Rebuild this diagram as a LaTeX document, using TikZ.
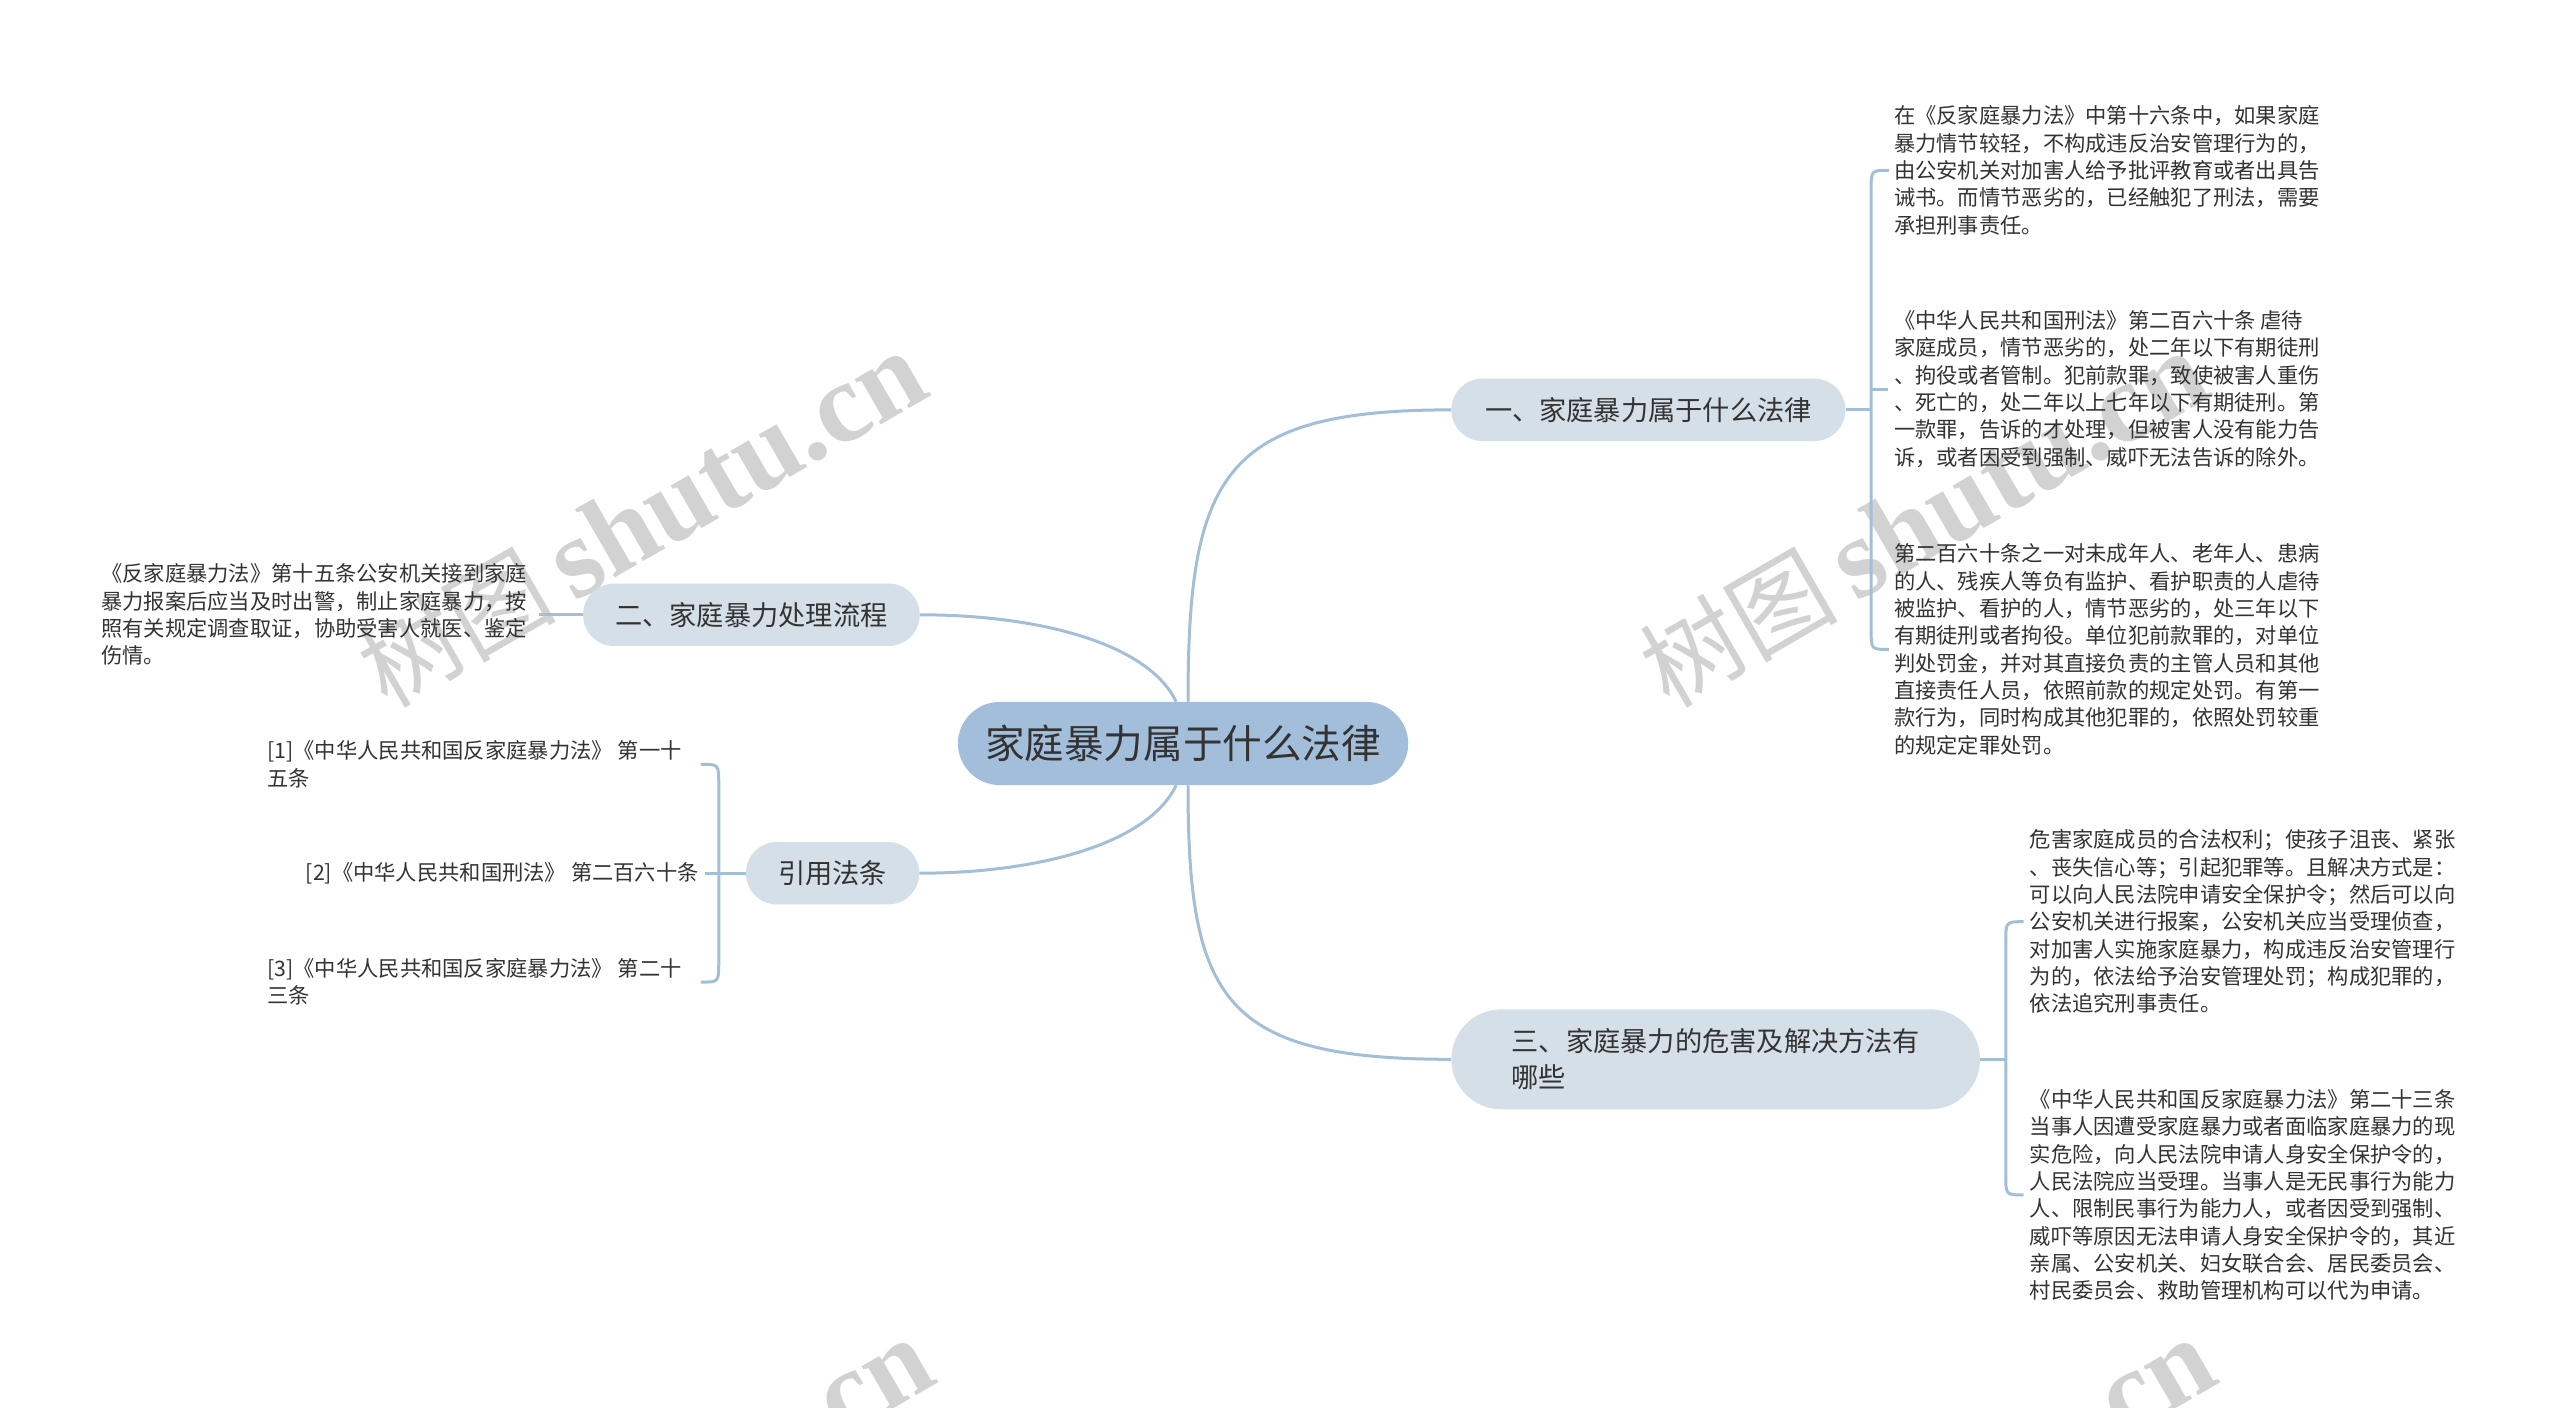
\documentclass[tikz,border=0pt]{standalone}
\usepackage{fontspec}
\setmainfont{Noto Sans CJK SC}
\newfontfamily\wmlatin{Liberation Serif}
\usetikzlibrary{calc}
\definecolor{linec}{HTML}{A3BFD8}
\definecolor{rootfill}{HTML}{A2BEDA}
\definecolor{subfill}{HTML}{D4DFE8}
\definecolor{txt}{HTML}{333333}
\definecolor{wmgray}{HTML}{D2D2D2}
\newcommand{\wmtext}{{\fontsize{100}{100}\selectfont 树图}\hspace{18pt}{\wmlatin\bfseries\fontsize{115}{115}\selectfont shutu.cn}}
\begin{document}
\begin{tikzpicture}[x=1pt,y=-1pt,
  conn/.style={draw=linec, line width=3pt},
  root/.style={fill=rootfill, rounded corners=42pt, minimum width=455pt, minimum height=84pt, inner sep=0pt, text=txt, font=\fontsize{40}{48}\selectfont},
  sub/.style={fill=subfill, rounded corners=31pt, minimum height=63pt, inner sep=0pt, text=txt, font=\fontsize{27.5}{36}\selectfont},
  leaf/.style={inner sep=0pt, text=txt, align=left, font=\fontsize{21.5}{27.6}\selectfont},
  wm/.style={text=wmgray, rotate=30, inner sep=0pt}
]
\useasboundingbox (0,0) rectangle (2560,1408);
\fill[white] (0,0) rectangle (2560,1408);
\clip (0,0) rectangle (2560,1408);
\begin{scope}[scale=0.99, transform shape]

% watermarks
\node[wm] (wm1) at (648,525) {\wmtext};
\node[wm] (wm2) at (1943,525) {\wmtext};
\node[wm] (wm3) at (655,1522) {\wmtext};
\node[wm] (wm4) at (1950,1522) {\wmtext};

% main nodes
\node[root] (C) at (1195,751) {家庭暴力属于什么法律};
\node[sub, minimum width=398pt] (N1) at (1665,414) {一、家庭暴力属于什么法律};
\node[sub, minimum width=340pt] (N2) at (759,621) {二、家庭暴力处理流程};
\node[sub, minimum width=175pt] (R) at (841,882) {引用法条};
\node[sub, minimum width=534pt, minimum height=101pt, rounded corners=50pt, text width=412pt, align=left] (N3) at (1733,1070) {三、家庭暴力的危害及解决方法有\\哪些};

% leaves of N1
\node[leaf, anchor=west] (L1a) at (1913,172) {在《反家庭暴力法》中第十六条中，如果家庭\\暴力情节较轻，不构成违反治安管理行为的，\\由公安机关对加害人给予批评教育或者出具告\\诫书。而情节恶劣的，已经触犯了刑法，需要\\承担刑事责任。};
\node[leaf, anchor=west] (L1b) at (1913,393) {《中华人民共和国刑法》第二百六十条 虐待\\家庭成员，情节恶劣的，处二年以下有期徒刑\\、拘役或者管制。犯前款罪，致使被害人重伤\\、死亡的，处二年以上七年以下有期徒刑。第\\一款罪，告诉的才处理，但被害人没有能力告\\诉，或者因受到强制、威吓无法告诉的除外。};
\node[leaf, anchor=west] (L1c) at (1913,656) {第二百六十条之一对未成年人、老年人、患病\\的人、残疾人等负有监护、看护职责的人虐待\\被监护、看护的人，情节恶劣的，处三年以下\\有期徒刑或者拘役。单位犯前款罪的，对单位\\判处罚金，并对其直接负责的主管人员和其他\\直接责任人员，依照前款的规定处罚。有第一\\款行为，同时构成其他犯罪的，依照处罚较重\\的规定定罪处罚。};

% leaf of N2
\node[leaf, anchor=west] (L2) at (102,621) {《反家庭暴力法》第十五条公安机关接到家庭\\暴力报案后应当及时出警，制止家庭暴力，按\\照有关规定调查取证，协助受害人就医、鉴定\\伤情。};

% leaves of R
\node[leaf, anchor=west] (R1) at (270,772) {[1]《中华人民共和国反家庭暴力法》 第一十\\五条};
\node[leaf, anchor=east] (R2) at (706,882) {[2]《中华人民共和国刑法》 第二百六十条};
\node[leaf, anchor=west] (R3) at (270,992) {[3]《中华人民共和国反家庭暴力法》 第二十\\三条};

% leaves of N3
\node[leaf, anchor=west] (L3a) at (2050,931) {危害家庭成员的合法权利；使孩子沮丧、紧张\\、丧失信心等；引起犯罪等。且解决方式是：\\可以向人民法院申请安全保护令；然后可以向\\公安机关进行报案，公安机关应当受理侦查，\\对加害人实施家庭暴力，构成违反治安管理行\\为的，依法给予治安管理处罚；构成犯罪的，\\依法追究刑事责任。};
\node[leaf, anchor=west] (L3b) at (2050,1207) {《中华人民共和国反家庭暴力法》第二十三条\\当事人因遭受家庭暴力或者面临家庭暴力的现\\实危险，向人民法院申请人身安全保护令的，\\人民法院应当受理。当事人是无民事行为能力\\人、限制民事行为能力人，或者因受到强制、\\威吓等原因无法申请人身安全保护令的，其近\\亲属、公安机关、妇女联合会、居民委员会、\\村民委员会、救助管理机构可以代为申请。};

% root connectors
\draw[conn] ($(C.north)+(5,0)$) .. controls (1200,480) and (1235,414) .. (N1.west);
\draw[conn] ($(C.north)+(-7,0)$) .. controls (1160,650) and (1050,621) .. (N2.east);
\draw[conn] ($(C.south)+(-7,0)$) .. controls (1160,852) and (1050,882) .. (R.east);
\draw[conn] ($(C.south)+(5,0)$) .. controls (1200,1010) and (1235,1070) .. (N3.west);

% bracket N1
\coordinate (b1) at (1890,414);
\draw[conn] (N1.east) -- (b1);
\draw[conn] ($(L1a.west -| b1)+(18,0)$) .. controls (L1a.west -| b1) .. ($(L1a.west -| b1)+(0,20)$) -- ($(L1c.west -| b1)+(0,-20)$) .. controls (L1c.west -| b1) .. ($(L1c.west -| b1)+(18,0)$);
\draw[conn] (L1b.west -| b1) -- ($(L1b.west)+(-6,0)$);

% bracket N3
\coordinate (b3) at (2026,1070);
\draw[conn] (N3.east) -- (b3);
\draw[conn] ($(L3a.west -| b3)+(18,0)$) .. controls (L3a.west -| b3) .. ($(L3a.west -| b3)+(0,20)$) -- ($(L3b.west -| b3)+(0,-20)$) .. controls (L3b.west -| b3) .. ($(L3b.west -| b3)+(18,0)$);

% N2 leaf
\draw[conn] (N2.west) -- ($(L2.east)+(12,0)$);

% bracket R
\coordinate (br) at (726,882);
\draw[conn] (R.west) -- (br);
\draw[conn] ($(R1.west -| br)+(-18,0)$) .. controls (R1.west -| br) .. ($(R1.west -| br)+(0,20)$) -- ($(R3.west -| br)+(0,-20)$) .. controls (R3.west -| br) .. ($(R3.west -| br)+(-18,0)$);
\draw[conn] (br) -- ($(R2.east)+(6,0)$);
\end{scope}
\end{tikzpicture}
\end{document}
